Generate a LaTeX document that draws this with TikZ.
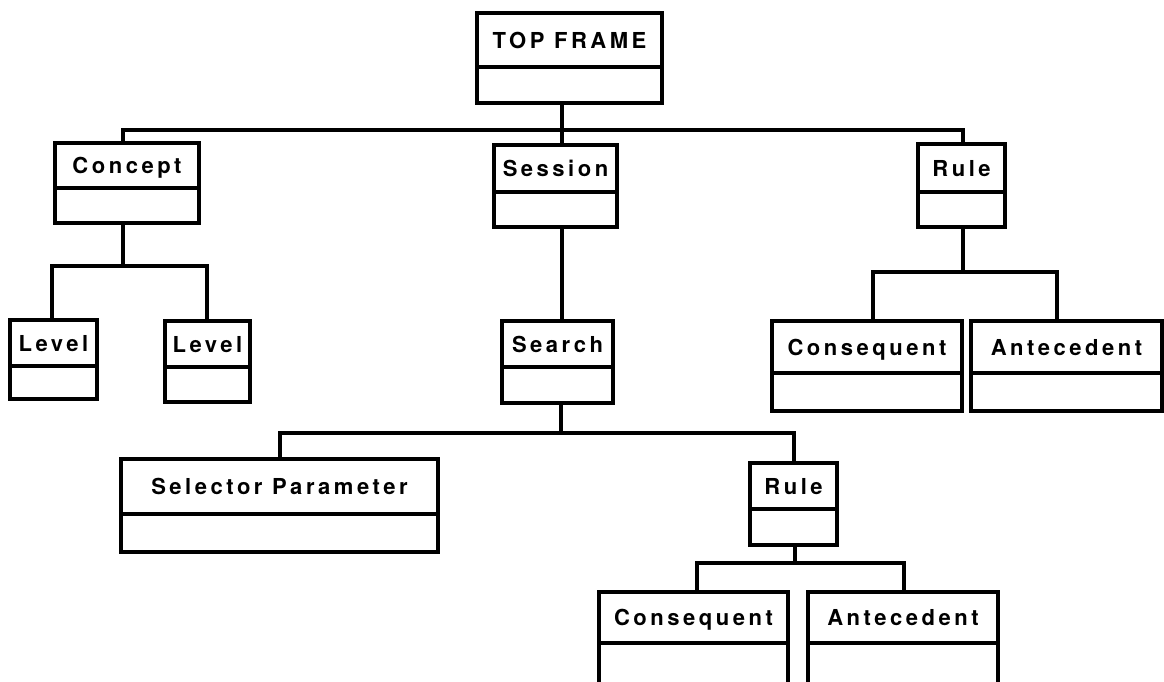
\documentclass[tikz,border=0pt]{standalone}
\usepackage{fontspec}
\newfontfamily\lblfont[LetterSpace=16]{TeX Gyre Heros}
\begin{document}
\begin{tikzpicture}[x=1pt,y=-1pt,
  cell/.style={draw, line width=3.2pt, inner sep=0pt, outer sep=0pt,
    text height=16pt, text depth=0pt,
    font=\lblfont\bfseries\fontsize{22}{22}\selectfont},
  wire/.style={line width=3.2pt, line join=miter}]
\useasboundingbox (0,0) rectangle (1164,681);
\clip (0,0) rectangle (1164,681);
% frame: name, left, right, top, divider, bottom, title
\newcommand\frameclass[7]{%
  \node[cell, anchor=north west, minimum width=#3-#2, minimum height=#5-#4]
    (#1-t) at (#2,#4) {#7};
  \node[cell, anchor=north west, minimum width=#3-#2, minimum height=#6-#5]
    (#1-b) at (#2,#5) {};}
\frameclass{top}{477}{662}{13}{67}{103}{TOP FRAME}
\frameclass{concept}{55}{199}{143}{188}{223}{Concept}
\frameclass{session}{494}{617}{145}{192}{227}{Session}
\frameclass{ruleA}{918}{1005}{144}{192}{227}{Rule}
\frameclass{levA}{10}{97}{320}{366}{399}{Level}
\frameclass{levB}{165}{250}{321}{367}{402}{Level}
\frameclass{search}{502}{613}{321}{367}{403}{Search}
\frameclass{consA}{772}{962}{321}{373}{411}{Consequent}
\frameclass{anteA}{971}{1162}{321}{373}{411}{Antecedent}
\frameclass{sel}{121}{438}{459}{514}{552}{Selector Parameter}
\frameclass{ruleB}{750}{837}{463}{509}{545}{Rule}
\frameclass{consB}{599}{788}{592}{643}{695}{Consequent}
\frameclass{anteB}{808}{998}{592}{643}{695}{Antecedent}
% junction points of the buses
\coordinate (k1) at (123,130);
\coordinate (k2) at (562,130);
\coordinate (k3) at (963,130);
\coordinate (c0) at (123,266);
\coordinate (c1) at (52,266);
\coordinate (c2) at (207,266);
\coordinate (r0) at (963,272);
\coordinate (r1) at (873,272);
\coordinate (r2) at (1057,272);
\coordinate (s0) at (561,433);
\coordinate (s1) at (280,433);
\coordinate (s2) at (794,433);
\coordinate (q0) at (795,563);
\coordinate (q1) at (697,563);
\coordinate (q2) at (904,563);
% top level
\draw[wire] (top-b.south -| k2) -- (session-t.north -| k2);
\draw[wire] (concept-t.north -| k1) -- (k1) -- (k3) -- (ruleA-t.north -| k3);
% concept levels
\draw[wire] (concept-b.south -| c0) -- (c0);
\draw[wire] (levA-t.north -| c1) -- (c1) -- (c2) -- (levB-t.north -| c2);
% session to search
\draw[wire] (session-b.south -| k2) -- (search-t.north -| k2);
% rule parts
\draw[wire] (ruleA-b.south -| r0) -- (r0);
\draw[wire] (consA-t.north -| r1) -- (r1) -- (r2) -- (anteA-t.north -| r2);
% search children
\draw[wire] (search-b.south -| s0) -- (s0);
\draw[wire] (sel-t.north -| s1) -- (s1) -- (s2) -- (ruleB-t.north -| s2);
% nested rule parts
\draw[wire] (ruleB-b.south -| q0) -- (q0);
\draw[wire] (consB-t.north -| q1) -- (q1) -- (q2) -- (anteB-t.north -| q2);
\end{tikzpicture}
\end{document}
